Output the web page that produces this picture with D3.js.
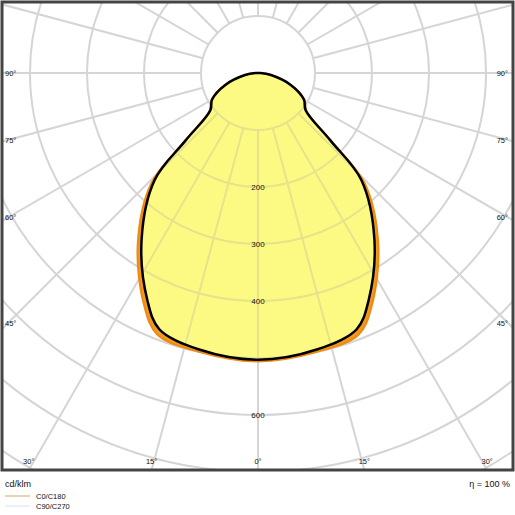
<!DOCTYPE html>
<html><head><meta charset="utf-8">
<script src="https://cdn.jsdelivr.net/npm/d3@7"></script>
<style>body{margin:0;background:#fff}svg{font-family:"Liberation Sans",Arial,sans-serif}</style>
</head><body><div id="chart"></div>
<script>
// gamma (deg from nadir) and intensity in cd/klm
const gammas = [0, 12, 21, 26, 35, 44, 47, 52, 60, 70, 81, 90];
const c0c180 = [506, 500, 492, 455, 368, 270, 178, 108, 94, 62, 24, 4];
const c90c270 = [503, 496, 482, 443, 356, 261, 174, 106, 93, 61, 23, 4];
const ringValues = [100, 200, 300, 400, 500, 600, 700, 800, 900];
const ringLabels = [200, 300, 400, 600];
const spokeAngles = d3.range(0, 360, 15);
const frameLabels = [
  {t: '90°', side: 'l', a: 90}, {t: '75°', side: 'l', a: 75}, {t: '60°', side: 'l', a: 60}, {t: '45°', side: 'l', a: 45},
  {t: '90°', side: 'r', a: 90}, {t: '75°', side: 'r', a: 75}, {t: '60°', side: 'r', a: 60}, {t: '45°', side: 'r', a: 45},
  {t: '30°', side: 'b', a: -30}, {t: '15°', side: 'b', a: -15}, {t: '0°', side: 'b', a: 0}, {t: '15°', side: 'b', a: 15}, {t: '30°', side: 'b', a: 30}
];

const W = 515, H = 515;
const cx = 258, cy = 73;
const box = {x0: 2, y0: 2, x1: 513, y1: 470};
const r = d3.scaleLinear().domain([0, 100]).range([0, 57]);

const svg = d3.select('#chart').append('svg').attr('width', W).attr('height', H);
svg.append('clipPath').attr('id', 'clip').append('rect')
  .attr('x', box.x0).attr('y', box.y0).attr('width', box.x1 - box.x0).attr('height', box.y1 - box.y0);
const g = svg.append('g').attr('clip-path', 'url(#clip)');

// point for gamma measured from downward vertical, positive to the left
const pt = (gam, v) => [cx - r(v) * Math.sin(gam * Math.PI / 180), cy + r(v) * Math.cos(gam * Math.PI / 180)];

function grid(sel, colour) {
  ringValues.forEach(v => sel.append('circle').attr('cx', cx).attr('cy', cy).attr('r', r(v))
    .attr('fill', 'none').attr('stroke', colour).attr('stroke-width', 2));
  spokeAngles.forEach(a => {
    const p0 = pt(a, 100), p1 = pt(a, 1200);
    sel.append('line').attr('x1', p0[0]).attr('y1', p0[1]).attr('x2', p1[0]).attr('y2', p1[1])
      .attr('stroke', colour).attr('stroke-width', 2);
  });
}
grid(g, '#d5d5d5');

// full curve: left side from 90 down to 0, then right side 0 to 90
function full(vals) {
  const left = gammas.map((gm, i) => [gm, vals[i]]);
  const right = left.slice(1).map(([gm, v]) => [-gm, v]);
  return left.slice().reverse().concat(right).map(([gm, v]) => pt(gm, v));
}
const line = d3.line().curve(d3.curveCatmullRomClosed.alpha(0.5));

g.append('path').attr('d', line(full(c0c180))).attr('fill', '#f39a1e').attr('stroke', '#ee8a10').attr('stroke-width', 2);
g.append('path').attr('d', line(full(c90c270))).attr('fill', '#fdfa84').attr('stroke', 'none');
// grid visible through fill
const inner = g.append('g').attr('clip-path', 'url(#fillclip)');
svg.append('clipPath').attr('id', 'fillclip').append('path').attr('d', line(full(c90c270)));
grid(inner, '#e6e38a');
g.append('path').attr('d', line(full(c90c270))).attr('fill', 'none').attr('stroke', '#000').attr('stroke-width', 2.5);

ringLabels.forEach(v => svg.append('text').attr('x', cx).attr('y', cy + r(v) + 3)
  .attr('text-anchor', 'middle').attr('font-size', 8).attr('fill', '#111').text(v));

frameLabels.forEach(d => {
  let x, y, anchor = 'start';
  const rad = d.a * Math.PI / 180;
  if (d.side === 'b') { x = cx + (box.y1 - cy) * Math.tan(rad); y = box.y1 - 6; anchor = 'middle'; }
  else {
    const t = Math.tan((90 - d.a) * Math.PI / 180);
    y = cy + (cx - 8) * t + 3;
    x = d.side === 'l' ? 5 : box.x1 - 5; anchor = d.side === 'l' ? 'start' : 'end';
  }
  svg.append('text').attr('x', x).attr('y', y).attr('text-anchor', anchor).attr('font-size', 7.5)
    .attr('fill', '#111').text(d.t);
});

svg.append('rect').attr('x', box.x0).attr('y', box.y0).attr('width', box.x1 - box.x0).attr('height', box.y1 - box.y0)
  .attr('fill', 'none').attr('stroke', '#444').attr('stroke-width', 3);

svg.append('text').attr('x', 5).attr('y', 487).attr('font-size', 9).attr('fill', '#111').text('cd/klm');
svg.append('text').attr('x', 510).attr('y', 487).attr('text-anchor', 'end').attr('font-size', 9).attr('fill', '#111').text('η = 100 %');
[['C0/C180', '#d9b77a'], ['C90/C270', '#e6e6e6']].forEach(([t, c], i) => {
  const y = 496 + i * 10;
  svg.append('line').attr('x1', 5).attr('x2', 30).attr('y1', y).attr('y2', y).attr('stroke', c).attr('stroke-width', 1.2);
  svg.append('text').attr('x', 36).attr('y', y + 3).attr('font-size', 7.5).attr('fill', '#111').text(t);
});
</script></body></html>
